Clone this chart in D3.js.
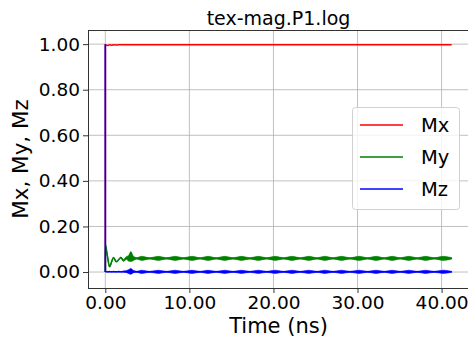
<!DOCTYPE html>
<html>
<head>
<meta charset="utf-8">
<script src="https://cdn.jsdelivr.net/npm/d3@7"></script>
<style>
  html, body { margin: 0; padding: 0; background: #fff; }
  svg { display: block; font-family: "DejaVu Sans", sans-serif; }
</style>
</head>
<body>
<svg id="chart" width="468" height="342"></svg>
<script>
// Magnetization components from tex-mag.P1.log
const timeNs = [
  0, 0.01, 0.25, 0.51, 0.75, 0.98, 1.3, 1.6, 1.85, 2.17, 2.5, 2.75, 3.04, 3.35, 3.75,
  4.3, 5.3, 6.3, 7.3, 8.3, 9.3, 10.3, 11.3, 12.2, 13.2,
  14.2, 15.2, 16.2, 17.2, 18.2, 19.2, 20.2, 21.2, 22.2, 23.2,
  24.2, 25.2, 26.1, 27.1, 28.1, 29.1, 30.2, 31.2, 32.2, 33.2,
  34.1, 35.1, 36.1, 37.1, 38.1, 39.1, 40.2, 41.2];

const mx = [
  0, 0.997, 0.994, 0.997, 0.995, 0.997, 0.996, 0.997, 0.997, 0.997, 0.997, 0.997, 0.997, 0.997, 0.997,
  0.997, 0.997, 0.997, 0.997, 0.997, 0.997, 0.997, 0.997, 0.997, 0.997,
  0.997, 0.997, 0.997, 0.997, 0.997, 0.997, 0.997, 0.997, 0.997, 0.997,
  0.997, 0.997, 0.997, 0.997, 0.997, 0.997, 0.997, 0.997, 0.997, 0.997,
  0.997, 0.997, 0.997, 0.997, 0.997, 0.997, 0.997, 0.997];

const my = [
  0, 0.120, 0.070, 0.023, 0.045, 0.064, 0.045, 0.055, 0.064, 0.050, 0.062, 0.060, 0.068, 0.060, 0.060,
  0.060, 0.060, 0.060, 0.060, 0.060, 0.060, 0.060, 0.060, 0.060, 0.060,
  0.060, 0.060, 0.060, 0.060, 0.060, 0.060, 0.060, 0.060, 0.060, 0.060,
  0.060, 0.060, 0.060, 0.060, 0.060, 0.060, 0.060, 0.060, 0.060, 0.060,
  0.060, 0.060, 0.060, 0.060, 0.060, 0.060, 0.060, 0.060];

const mz = [
  1.0, 0.003, 0.001, 0.002, 0.001, 0.002, 0.001, 0.002, 0.001, 0.002, 0.002, 0.002, 0.003, 0.002, 0.001,
  0.001, 0.001, 0.001, 0.001, 0.001, 0.001, 0.001, 0.001, 0.001, 0.001,
  0.001, 0.001, 0.001, 0.001, 0.001, 0.001, 0.001, 0.001, 0.001, 0.001,
  0.001, 0.001, 0.001, 0.001, 0.001, 0.001, 0.001, 0.001, 0.001, 0.001,
  0.001, 0.001, 0.001, 0.001, 0.001, 0.001, 0.001, 0.001];

// Half-width of the fast precession ripple around each sample (envelope of the trace)
const myRipple = [
  0, 0, 0, 0, 0, 0, 0, 0, 0.002, 0.003, 0.006, 0.012, 0.022, 0.009, 0.003,
  0.009, 0.0025, 0.009, 0.0025, 0.009, 0.0025, 0.009, 0.0025, 0.009, 0.0025,
  0.009, 0.0025, 0.009, 0.0025, 0.009, 0.0025, 0.009, 0.0025, 0.009, 0.0025,
  0.009, 0.0025, 0.009, 0.0025, 0.009, 0.0025, 0.009, 0.0025, 0.009, 0.0025,
  0.009, 0.0025, 0.009, 0.0025, 0.009, 0.0025, 0.009, 0.003];

const mzRipple = [
  0, 0, 0, 0, 0, 0, 0, 0.001, 0.001, 0.002, 0.004, 0.008, 0.013, 0.005, 0.002,
  0.007, 0.002, 0.007, 0.002, 0.007, 0.002, 0.007, 0.002, 0.007, 0.002,
  0.007, 0.002, 0.007, 0.002, 0.007, 0.002, 0.007, 0.002, 0.007, 0.002,
  0.007, 0.002, 0.007, 0.002, 0.007, 0.002, 0.007, 0.002, 0.007, 0.002,
  0.007, 0.002, 0.007, 0.002, 0.007, 0.002, 0.007, 0.002];

const xTicks = [0, 10, 20, 30, 40];
const yTicks = [0, 0.2, 0.4, 0.6, 0.8, 1.0];

const titleText = "tex-mag.P1.log";
const xLabel = "Time (ns)";
const yLabel = "Mx, My, Mz";
const seriesNames = ["Mx", "My", "Mz"];
const seriesColors = ["#ff0000", "#008000", "#0000ff"];

const svg = d3.select("#chart");
const margin = { left: 88, top: 30, right: 469, bottom: 288 };

const x = d3.scaleLinear().domain([-2.06, 43.26]).range([margin.left, margin.right]);
const y = d3.scaleLinear().domain([-0.07, 1.062]).range([margin.bottom, margin.top]);

svg.append("defs").append("clipPath").attr("id", "plotClip")
  .append("rect")
  .attr("x", margin.left).attr("y", margin.top)
  .attr("width", margin.right - margin.left).attr("height", margin.bottom - margin.top);

// grid
const grid = svg.append("g");
grid.selectAll("line.gx").data(xTicks).join("line")
  .attr("x1", d => x(d)).attr("x2", d => x(d))
  .attr("y1", margin.top).attr("y2", margin.bottom)
  .attr("stroke", "#b0b0b0").attr("stroke-width", 0.8);
grid.selectAll("line.gy").data(yTicks).join("line")
  .attr("y1", d => y(d)).attr("y2", d => y(d))
  .attr("x1", margin.left).attr("x2", margin.right)
  .attr("stroke", "#b0b0b0").attr("stroke-width", 0.8);

// series
const rows = timeNs.map((t, i) => ({ t, mx: mx[i], my: my[i], mz: mz[i], ry: myRipple[i], rz: mzRipple[i] }));
const plot = svg.append("g").attr("clip-path", "url(#plotClip)");

const band = (key, rKey) => d3.area()
  .x(d => x(d.t))
  .y0(d => y(d[key] - d[rKey]))
  .y1(d => y(d[key] + d[rKey]))
  .curve(d3.curveCatmullRom);
const line = key => d3.line().x(d => x(d.t)).y(d => y(d[key])).curve(d3.curveMonotoneX);

plot.append("path").datum(rows).attr("d", line("mx"))
  .attr("fill", "none").attr("stroke", seriesColors[0]).attr("stroke-width", 1.6);

plot.append("path").datum(rows.slice(1)).attr("d", band("my", "ry"))
  .attr("fill", seriesColors[1]).attr("stroke", seriesColors[1]).attr("stroke-width", 0.6);
plot.append("path").datum(rows).attr("d", line("my"))
  .attr("fill", "none").attr("stroke", seriesColors[1]).attr("stroke-width", 1.6);

plot.append("path").datum(rows.slice(1)).attr("d", band("mz", "rz"))
  .attr("fill", seriesColors[2]).attr("stroke", seriesColors[2]).attr("stroke-width", 0.6);
plot.append("path").datum(rows).attr("d", line("mz"))
  .attr("fill", "none").attr("stroke", seriesColors[2]).attr("stroke-width", 1.6);

// frame
svg.append("rect")
  .attr("x", margin.left + 0.5).attr("y", margin.top + 0.5)
  .attr("width", margin.right - margin.left).attr("height", margin.bottom - margin.top)
  .attr("fill", "none").attr("stroke", "#333").attr("stroke-width", 1);

// axes
const xAxis = svg.append("g").attr("transform", `translate(0,${margin.bottom})`)
  .call(d3.axisBottom(x).tickValues(xTicks).tickFormat(d3.format(".2f")).tickSize(5).tickPadding(3));
const yAxis = svg.append("g").attr("transform", `translate(${margin.left},0)`)
  .call(d3.axisLeft(y).tickValues(yTicks).tickFormat(d3.format(".2f")).tickSize(5).tickPadding(3));
[xAxis, yAxis].forEach(a => {
  a.select(".domain").remove();
  a.selectAll(".tick line").attr("stroke", "#333");
  a.selectAll(".tick text").attr("fill", "#000")
    .style("font-family", "DejaVu Sans").style("font-size", "18.5px");
});

// titles
svg.append("text").attr("x", (margin.left + margin.right) / 2).attr("y", 25)
  .attr("text-anchor", "middle").style("font-size", "19px").text(titleText);
svg.append("text").attr("x", (margin.left + margin.right) / 2).attr("y", 333)
  .attr("text-anchor", "middle").style("font-size", "21px").text(xLabel);
svg.append("text")
  .attr("transform", `translate(28,${(margin.top + margin.bottom) / 2}) rotate(-90)`)
  .attr("text-anchor", "middle").style("font-size", "21.5px").text(yLabel);

// legend
const lg = svg.append("g").attr("transform", "translate(352,107)");
lg.append("rect").attr("x", 0.5).attr("y", 0.5).attr("width", 107).attr("height", 102)
  .attr("rx", 3).attr("fill", "#fff").attr("fill-opacity", 0.8)
  .attr("stroke", "#d0d0d0").attr("stroke-width", 1);
seriesNames.forEach((name, i) => {
  const cy = 18 + i * 32;
  lg.append("line").attr("x1", 8).attr("x2", 51).attr("y1", cy).attr("y2", cy)
    .attr("stroke", seriesColors[i]).attr("stroke-width", 1.6);
  lg.append("text").attr("x", 69).attr("y", cy + 7).style("font-size", "19.5px").text(name);
});
</script>
</body>
</html>
